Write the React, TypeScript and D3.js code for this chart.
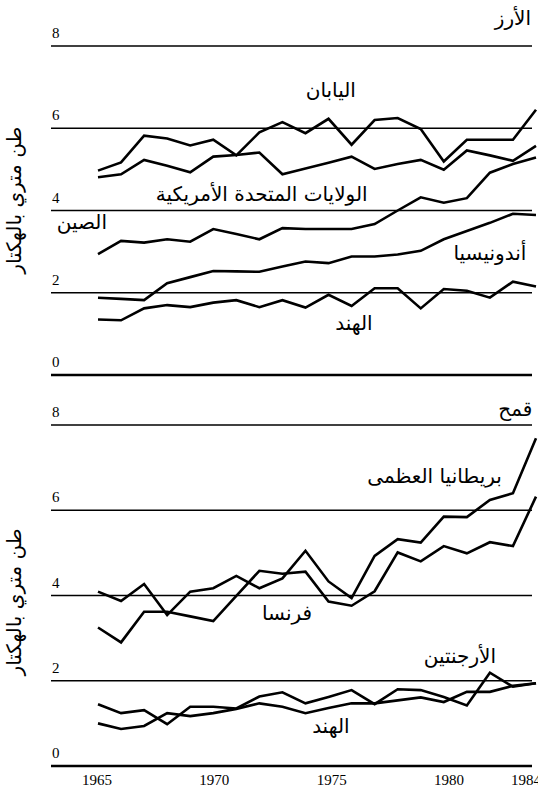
import React from "react";
import * as d3 from "d3";

const years = [1965,1966,1967,1968,1969,1970,1971,1972,1973,1974,1975,1976,1977,1978,1979,1980,1981,1982,1983,1984];

const riceJapan = [4.97,5.17,5.82,5.75,5.58,5.72,5.34,5.90,6.15,5.88,6.23,5.60,6.20,6.25,5.98,5.19,5.72,5.72,5.72,6.45];
const riceUSA = [4.81,4.88,5.23,5.09,4.93,5.31,5.35,5.41,4.88,5.02,5.16,5.31,5.01,5.13,5.23,4.99,5.46,5.34,5.21,5.57];
const riceChina = [2.94,3.26,3.22,3.30,3.24,3.55,3.43,3.30,3.57,3.55,3.55,3.55,3.67,4.00,4.32,4.19,4.30,4.92,5.13,5.29];
const riceIndonesia = [1.88,1.85,1.82,2.23,2.38,2.53,2.52,2.51,2.64,2.76,2.72,2.88,2.88,2.93,3.02,3.30,3.50,3.70,3.92,3.89];
const riceIndia = [1.35,1.33,1.62,1.70,1.65,1.76,1.82,1.65,1.82,1.64,1.95,1.68,2.11,2.11,1.62,2.09,2.05,1.88,2.27,2.15];

const wheatUK = [4.09,3.87,4.27,3.54,4.09,4.17,4.46,4.17,4.40,5.05,4.33,3.94,4.93,5.32,5.24,5.85,5.84,6.24,6.40,7.69];
const wheatFrance = [3.25,2.90,3.62,3.62,3.51,3.40,3.99,4.58,4.51,4.56,3.86,3.76,4.10,5.01,4.80,5.16,4.99,5.25,5.16,6.32];
const wheatArgentina = [1.45,1.24,1.31,0.98,1.39,1.39,1.35,1.63,1.73,1.47,1.62,1.78,1.45,1.80,1.78,1.62,1.42,2.19,1.86,1.94];
const wheatIndia = [1.00,0.87,0.94,1.24,1.17,1.24,1.34,1.47,1.39,1.24,1.36,1.47,1.47,1.54,1.61,1.50,1.74,1.74,1.88,1.94];

const yTicks = [0, 2, 4, 6, 8];
const xTicks = [1965, 1970, 1975, 1980, 1984];
const yTitle = "طن متري بالهكتار";

const riceLabels = [
  { text: "الأرز", year: 1983.0, value: 8.5 },
  { text: "اليابان", year: 1975.1, value: 6.75 },
  { text: "الولايات المتحدة الأمريكية", year: 1972.1, value: 4.22 },
  { text: "الصين", year: 1964.3, value: 3.55 },
  { text: "أندونيسيا", year: 1982.0, value: 2.8 },
  { text: "الهند", year: 1976.1, value: 1.1 },
];
const wheatLabels = [
  { text: "قمح", year: 1983.1, value: 8.22 },
  { text: "بريطانيا العظمى", year: 1979.6, value: 6.65 },
  { text: "فرنسا", year: 1973.2, value: 3.42 },
  { text: "الأرجنتين", year: 1980.7, value: 2.42 },
  { text: "الهند", year: 1975.1, value: 0.78 },
];

const W = 538;
const H = 791;
const x = d3.scaleLinear().domain([1965, 1984]).range([98, 536]);
const xLabel = d3.scaleLinear().domain([1965, 1980]).range([97, 449]);
const yRice = d3.scaleLinear().domain([0, 8]).range([375, 46]);
const yWheat = d3.scaleLinear().domain([0, 8]).range([766, 425]);

const arabic = "'DejaVu Sans', sans-serif";
const serif = "'Liberation Serif', 'DejaVu Serif', serif";

type Lab = { text: string; year: number; value: number };

function Panel({ y, series, labels, titleY }: { y: d3.ScaleLinear<number, number>; series: number[][]; labels: Lab[]; titleY: number }) {
  const line = d3
    .line<number>()
    .x((_, i) => x(years[i]))
    .y((d) => y(d));
  return (
    <g>
      {yTicks.map((t) => (
        <g key={t}>
          <line x1={51} x2={532} y1={y(t)} y2={y(t)} stroke="#000" strokeWidth={t === 0 ? 2.6 : 1.6} />
          <text x={52} y={y(t) - 8} fontFamily={serif} fontSize={15} fill="#000">
            {t}
          </text>
        </g>
      ))}
      {series.map((s, i) => (
        <path key={i} d={line(s) || ""} fill="none" stroke="#000" strokeWidth={2.6} strokeLinejoin="miter" />
      ))}
      {labels.map((l, i) => (
        <text key={i} x={x(l.year)} y={y(l.value)} textAnchor="middle" fontFamily={arabic} fontSize={20} fill="#000">
          {l.text}
        </text>
      ))}
      <text
        transform={`translate(21,${titleY}) rotate(-90)`}
        textAnchor="middle"
        fontFamily={arabic}
        fontSize={20}
        fill="#000"
      >
        {yTitle}
      </text>
    </g>
  );
}

export default function App() {
  return (
    <svg width={W} height={H} style={{ position: "absolute", left: 0, top: 0, background: "#fff" }}>
      <rect width={W} height={H} fill="#fff" />
      <Panel y={yRice} series={[riceJapan, riceUSA, riceChina, riceIndonesia, riceIndia]} labels={riceLabels} titleY={yRice(4.25)} />
      <Panel y={yWheat} series={[wheatUK, wheatFrance, wheatArgentina, wheatIndia]} labels={wheatLabels} titleY={yWheat(3.85)} />
      {xTicks.map((t, i) => (
        <text
          key={t}
          x={i === xTicks.length - 1 ? x(t) : xLabel(t)}
          y={785}
          textAnchor={i === xTicks.length - 1 ? "end" : "middle"}
          dx={i === xTicks.length - 1 ? 5 : 0}
          fontFamily={serif}
          fontSize={15}
          fill="#000"
        >
          {t}
        </text>
      ))}
    </svg>
  );
}
